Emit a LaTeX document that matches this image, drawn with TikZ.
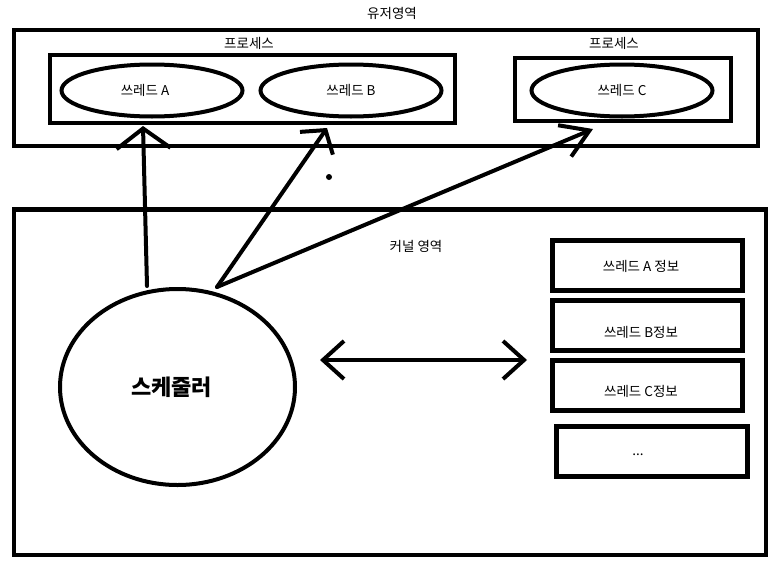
\documentclass[tikz,border=0pt]{standalone}
\usepackage{fontspec}
\setmainfont{Noto Sans CJK KR}
\usetikzlibrary{shapes.geometric,arrows.meta}
\begin{document}
\begin{tikzpicture}[x=1pt,y=-1pt,
  frame/.style={rectangle,draw,line width=4.5pt,inner sep=0pt},
  proc/.style={rectangle,draw,line width=4pt,inner sep=0pt},
  thr/.style={ellipse,draw,line width=4pt,minimum width=181pt,minimum height=52pt,inner sep=0pt,font=\fontsize{13.5}{15}\selectfont},
  infobox/.style={rectangle,draw,line width=5pt,minimum width=190pt,minimum height=50pt,inner sep=0pt},
  lbl/.style={inner sep=0pt,font=\fontsize{13.5}{15}\selectfont},
  conn/.style={line width=4pt,line cap=round,line join=round}
]
\fill[white] (0,0) rectangle (773,570);
\useasboundingbox (0,0) rectangle (773,570);

% user area
\node[lbl] (ut) at (392,13) {유저영역};
\node[frame,minimum width=744pt,minimum height=116pt] (user) at (386,88) {};
\node[lbl] (p1t) at (249,43) {프로세스};
\node[proc,minimum width=405pt,minimum height=68pt] (p1) at (252.5,89) {};
\node[lbl] (p2t) at (614,43) {프로세스};
\node[proc,minimum width=216pt,minimum height=63pt] (p2) at (623,89.5) {};
\node[thr] (ta) at (152,90.5) {쓰레드 A\hspace*{14pt}};
\node[thr] (tb) at (351,90.5) {쓰레드 B};
\node[thr] (tc) at (622,90.5) {쓰레드 C};

% kernel area
\node[frame,minimum width=752pt,minimum height=345.5pt] (kern) at (390,382) {};
\node[lbl] (kt) at (416,246) {커널 영역};
\node[ellipse,draw,line width=4pt,minimum width=235pt,minimum height=196pt,inner sep=0pt,
      font=\fontsize{22}{26}\selectfont\bfseries] (sch) at (177.5,387) {스케줄러\hspace*{12pt}};

\node[infobox] (i1) at (647.5,265.5) {};
\node[infobox] (i2) at (647.5,325.5) {};
\node[infobox] (i3) at (647.5,385.5) {};
\node[infobox,minimum width=191pt] (i4) at (652,451.5) {};
\node[lbl] (i1t) at (641,266) {쓰레드 A 정보};
\node[lbl] (i2t) at (641,332) {쓰레드 B정보};
\node[lbl] (i3t) at (641,391) {쓰레드 C정보};
\node[lbl] (i4t) at (638,455) {...};

% connectors
\coordinate (s1) at (147,286);
\coordinate (s2) at (217,287);
\coordinate (ea) at (143,126);
\coordinate (eb) at (327,128);
\coordinate (ec) at (593,129);
\coordinate (dl) at (320,360);
\coordinate (dr) at (527,360);
\draw[conn,-{Straight Barb[length=20pt,width=54pt]}] (s1) -- (ea);
\draw[conn,-{Straight Barb[length=16pt,width=40pt]}] (s2) -- (eb);
\draw[conn,-{Straight Barb[length=27pt,width=34pt]}] (s2) -- (ec);
\draw[conn,{Straight Barb[length=21pt,width=38pt]}-{Straight Barb[length=21pt,width=38pt]}] (dl) -- (dr);

\fill (329,177) circle (3pt);
\end{tikzpicture}
\end{document}
